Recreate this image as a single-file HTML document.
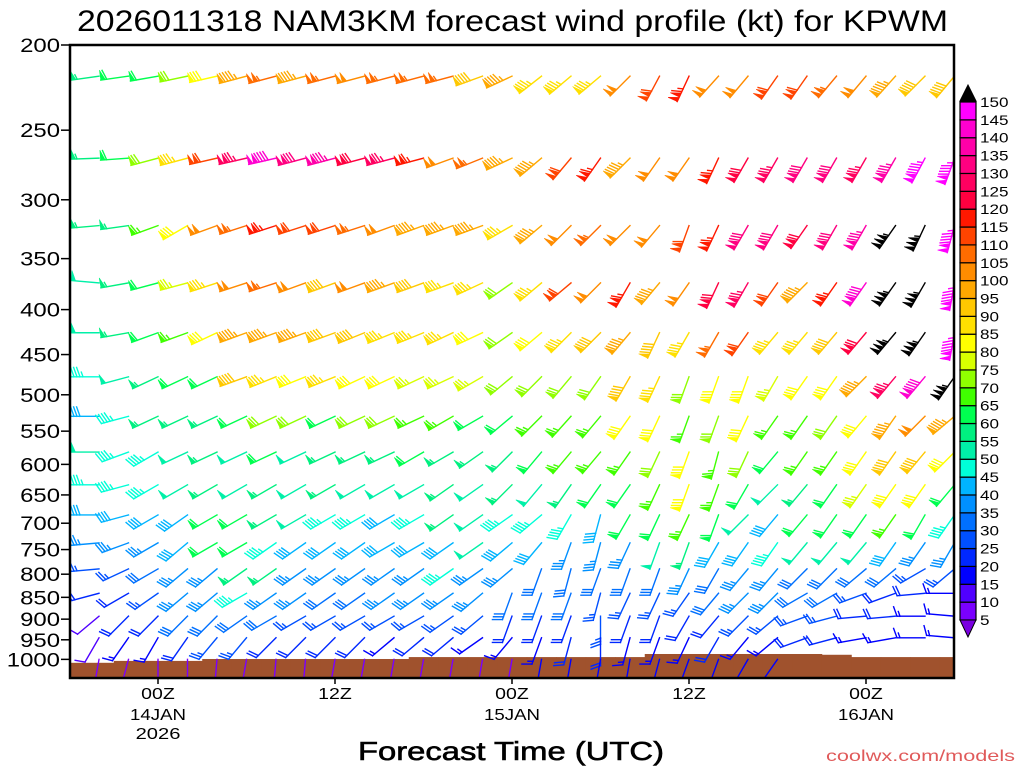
<!DOCTYPE html>
<html><head><meta charset="utf-8"><style>
html,body{margin:0;padding:0;background:#fff;}
svg{display:block;font-family:"Liberation Sans",sans-serif;}
</style></head><body>
<svg id="chart" width="1024" height="768" viewBox="0 0 1024 768" xmlns="http://www.w3.org/2000/svg">
<defs><clipPath id="plotclip"><rect x="70" y="45" width="884" height="633"/></clipPath></defs>
<text x="77" y="31" font-size="30" textLength="871" lengthAdjust="spacingAndGlyphs" fill="#000">2026011318 NAM3KM forecast wind profile (kt) for KPWM</text>
<g id="terrain" clip-path="url(#plotclip)"></g>
<g id="barbs" clip-path="url(#plotclip)"></g>
<rect x="70" y="45" width="884" height="633" fill="none" stroke="#000" stroke-width="2.5"/>
<g id="yaxis"></g>
<g id="xaxis"></g>
<text x="358" y="760" font-size="26" textLength="306" lengthAdjust="spacingAndGlyphs" stroke="#000" stroke-width="0.6" fill="#000">Forecast Time (UTC)</text>
<text x="826" y="761" font-size="16" textLength="189" lengthAdjust="spacingAndGlyphs" fill="#e05a5a">coolwx.com/models</text>
<g id="cbar"></g>
</svg>
<script>
// ---- data ----
const hours = [-4,-2,0,2,4,6,8,10,12,14,16,18,20,22,24,26,28,30,32,34,36,38,40,42,44,46,48,50,52,54];
const levels = [217,269,321,373,425,477,529,581,633,685,737,789,841,893,945,1000];
const tickHours = [0,12,24,36,48];
const tickTop = ["00Z","12Z","00Z","12Z","00Z"];
const tickMid = ["14JAN","","15JAN","","16JAN"];
const tickBot = ["2026","","","",""];
const yTicks = [200,250,300,350,400,450,500,550,600,650,700,750,800,850,900,950,1000];
const cbarLabels = [5,10,15,20,25,30,35,40,45,50,55,60,65,70,75,80,85,90,95,100,105,110,115,120,125,130,135,140,145,150];
const sfcPres = [1009,1004,1004,1004,999,999,999,999,999,999,999,994,994,994,994,994,994,994,994,986,986,986,986,986,986,988,994,994,994,994];
const speeds = [
[55,60,60,70,80,95,105,95,105,100,105,105,105,90,95,85,85,85,100,110,115,100,100,110,110,105,100,95,90,90],
[55,60,70,85,110,125,140,130,135,120,125,115,100,105,95,95,110,115,95,100,100,115,120,125,130,130,125,135,145,145],
[55,55,65,80,100,105,115,110,110,105,100,95,95,95,85,95,100,105,100,100,110,115,130,130,120,130,135,155,155,145],
[50,55,60,75,85,100,105,100,90,100,95,90,85,85,70,85,110,100,115,95,100,120,125,110,95,115,140,155,155,145],
[50,55,60,65,80,95,95,95,90,90,85,85,85,80,70,80,85,90,95,90,85,105,110,85,85,90,120,155,155,145],
[45,50,55,60,60,90,85,80,85,80,80,75,75,75,70,70,70,70,90,85,70,80,80,75,80,80,95,125,140,155],
[40,45,55,55,55,60,70,70,60,70,70,65,65,60,60,65,65,65,80,80,65,70,80,65,65,70,80,95,100,95],
[50,45,45,50,55,50,60,50,55,55,55,60,55,55,55,60,65,65,65,70,80,65,70,60,65,65,80,90,90,80],
[45,45,45,50,55,50,55,50,55,50,50,50,55,50,55,50,55,60,60,65,80,65,60,50,55,60,75,80,80,60],
[40,40,40,40,60,60,55,50,45,45,40,45,55,50,45,45,45,40,60,60,65,60,50,40,60,60,60,65,60,45],
[35,35,35,40,60,60,45,40,40,40,40,40,40,50,40,40,35,35,35,50,55,40,40,45,50,50,50,40,35,35],
[25,25,30,35,35,55,55,35,35,35,35,35,45,35,35,30,30,30,30,30,35,30,35,35,30,30,30,30,25,25],
[20,20,25,35,35,45,35,35,30,30,35,35,35,35,30,30,30,25,25,25,25,30,35,35,30,30,25,20,20,15],
[10,20,20,30,30,30,30,25,25,25,25,25,25,25,20,20,20,25,20,20,20,20,25,25,25,25,20,20,15,15],
[10,15,15,20,25,25,20,20,20,20,15,20,20,15,15,15,20,20,15,15,15,20,15,15,20,20,15,15,15,15],
[7,7,7,7,7,7,7,7,7,7,7,7,7,7,7,15,15,15,15,15,15,15,15,15,null,null,null,null,null,null]
];
const dirs = [
[262,262,260,258,257,255,255,255,255,255,255,255,255,250,245,232,230,230,225,208,205,222,220,215,215,220,220,222,225,220],
[268,266,255,255,257,257,257,255,255,255,255,255,250,248,245,230,220,215,225,215,215,205,210,210,210,210,210,210,208,200],
[265,262,250,240,250,252,252,252,252,252,250,250,250,250,240,230,225,225,225,220,200,205,210,210,215,210,210,215,205,195],
[275,260,255,255,252,252,252,250,250,250,250,250,250,245,235,230,230,225,210,220,215,205,210,215,225,215,215,215,210,190],
[270,260,250,250,245,250,250,250,250,248,248,248,245,245,235,230,225,225,220,205,210,210,215,220,220,220,220,220,215,190],
[270,255,245,245,245,250,248,248,248,245,245,245,245,240,230,225,220,215,210,205,200,200,200,210,215,215,225,220,220,215],
[270,255,245,245,245,245,245,245,245,245,245,245,240,240,230,225,222,220,215,205,200,200,205,215,215,215,220,215,225,230],
[270,250,240,245,245,245,245,245,245,245,245,240,240,235,225,220,220,220,215,205,200,195,205,220,215,215,215,215,220,225],
[270,255,240,240,240,240,240,240,240,240,240,240,235,235,225,220,215,215,215,205,200,200,210,225,220,215,215,215,215,220],
[270,255,240,235,240,240,240,240,240,240,240,240,235,235,235,230,210,195,210,205,205,200,225,220,220,215,215,215,210,215],
[265,250,240,230,240,240,235,235,235,235,240,240,235,235,230,220,200,195,205,200,200,210,215,215,220,220,220,215,215,210],
[265,245,240,230,230,235,235,235,235,235,235,235,235,235,230,200,195,200,200,200,205,210,220,220,225,225,230,230,240,230],
[255,240,235,230,230,240,235,235,235,235,235,235,235,230,200,200,200,195,205,205,215,220,225,225,240,240,250,250,265,270],
[230,225,225,225,225,235,240,240,240,240,240,240,235,230,200,200,200,180,200,200,210,220,225,230,250,255,265,265,270,275],
[210,215,210,215,220,220,225,225,225,225,230,230,230,235,220,200,195,180,195,200,205,210,220,230,250,255,260,260,270,275],
[190,195,180,180,185,190,185,185,190,190,190,190,190,190,190,190,190,190,190,195,200,200,210,215,0,0,0,0,0,0]
];
const cbarColors = ["#7a00ff","#5000ff","#0000ff","#0028ff","#0050ff","#0070ff","#0090ff","#00b4ff","#00ffd8","#00f0a8","#00f080","#00ff50","#40ff00","#90ff00","#d8ff00","#ffff00","#ffe000","#ffc800","#ffa800","#ff8c00","#ff6c00","#ff4400","#ff1800","#ff0040","#ff0060","#ff0080","#ff00a8","#ff00d0","#ff00ff"];

// ---- axes ----
const NS = "http://www.w3.org/2000/svg";
function xOf(h){ return 158 + 14.75*h; }
function yOf(p){ return 45 + 633*Math.log(p/200)/Math.log(1050/200); }
function colorOf(s){
  if (s < 5) return "#7a00e0";
  if (s >= 150) return "#000000";
  return cbarColors[Math.floor((s-5)/5)];
}
function mk(tag, attrs, parent){
  const el = document.createElementNS(NS, tag);
  for (const k in attrs) el.setAttribute(k, attrs[k]);
  parent.appendChild(el);
  return el;
}

// terrain
const terr = document.getElementById("terrain");
for (let i=0;i<hours.length;i++){
  const x0 = i===0 ? 70 : xOf(hours[i])-14.75;
  const x1 = xOf(hours[i])+14.75;
  const y = yOf(sfcPres[i]);
  const r = mk("rect",{x:x0,y:y,width:x1-x0+0.5,height:680-y,fill:"#a0522d"},terr);
  
  
}

// barbs
const bg = document.getElementById("barbs");
const L = 28;
function drawBarb(x0,y0,d,s){
  const col = colorOf(s);
  const g = mk("g",{stroke:col,fill:col,"stroke-width":1.4,"stroke-linecap":"square"},bg);
  
  
  const r = d*Math.PI/180;
  const ux = Math.sin(r), uy = -Math.cos(r);
  const px = -uy, py = ux;
  const bx = px*0.94 + ux*0.34, by = py*0.94 + uy*0.34;
  mk("line",{x1:x0,y1:y0,x2:x0+L*ux,y2:y0+L*uy},g);
  let v = Math.round(s/5)*5;
  let pen = Math.floor(v/50); v -= pen*50;
  let full = Math.floor(v/10); v -= full*10;
  let half = v>=5 ? 1 : 0;
  let pos = L;
  for (let k=0;k<pen;k++){
    const ax = x0+pos*ux, ay = y0+pos*uy;
    const cx = x0+(pos-4.5)*ux, cy = y0+(pos-4.5)*uy;
    mk("polygon",{points:`${ax},${ay} ${cx},${cy} ${ax+10*px},${ay+10*py}`,"stroke-width":0.6},g);
    pos -= 5;
  }
  if (pen>0) pos -= 1;
  if (pen===0 && full===0 && half) pos -= 3;
  for (let k=0;k<full;k++){
    const ax = x0+pos*ux, ay = y0+pos*uy;
    mk("line",{x1:ax,y1:ay,x2:ax+10*bx,y2:ay+10*by},g);
    pos -= 3;
  }
  if (half){
    const ax = x0+pos*ux, ay = y0+pos*uy;
    mk("line",{x1:ax,y1:ay,x2:ax+5*bx,y2:ay+5*by},g);
  }
}
for (let j=0;j<levels.length;j++){
  for (let i=0;i<hours.length;i++){
    const s = speeds[j][i];
    if (s===null) continue;
    drawBarb(xOf(hours[i]), yOf(levels[j]), dirs[j][i], s);
  }
}

// y axis
const ya = document.getElementById("yaxis");
yTicks.forEach(p=>{
  const y = yOf(p);
  const t = mk("line",{x1:61,y1:y,x2:70,y2:y,stroke:"#000","stroke-width":1.5},ya);
  
  
  const lab = String(p);
  const tx = mk("text",{x:60,y:y+7,"font-size":19,"text-anchor":"end",textLength:lab.length*13.3,lengthAdjust:"spacingAndGlyphs",fill:"#000"},ya);
  tx.textContent = lab;
  
  
});

// x axis
const xa = document.getElementById("xaxis");
tickHours.forEach((h,i)=>{
  const x = xOf(h);
  const t = mk("line",{x1:x,y1:678,x2:x,y2:684,stroke:"#000","stroke-width":1.5},xa);
  
  
  [[tickTop[i],699],[tickMid[i],720],[tickBot[i],739]].forEach(([lab,y])=>{
    if (!lab) return;
    const tx = mk("text",{x:x-lab.length*5.6,y:y,"font-size":16,textLength:lab.length*11.2,lengthAdjust:"spacingAndGlyphs",fill:"#000"},xa);
    tx.textContent = lab;
    
    
  });
});

// colorbar
const cb = document.getElementById("cbar");
function cbY(v){ return 620 - (v-5)/145*518; }
cbarColors.forEach((c,i)=>{
  const v0 = 5+5*i;
  const r = mk("rect",{x:960,y:cbY(v0+5),width:16,height:cbY(v0)-cbY(v0+5),fill:c,stroke:"#000","stroke-width":1.2},cb);
  
  
});
const tt = mk("polygon",{points:"960,101 976,101 968,85",fill:"#000",stroke:"#000"},cb);


const tb = mk("polygon",{points:"960,620 976,620 968,637",fill:"#7a00e0",stroke:"#000"},cb);


cbarLabels.forEach(v=>{
  const lab = String(v);
  const tx = mk("text",{x:980,y:cbY(v)+5,"font-size":14,textLength:lab.length*9.5,lengthAdjust:"spacingAndGlyphs",fill:"#000"},cb);
  tx.textContent = lab;
  
  
});
</script>
</body></html>
